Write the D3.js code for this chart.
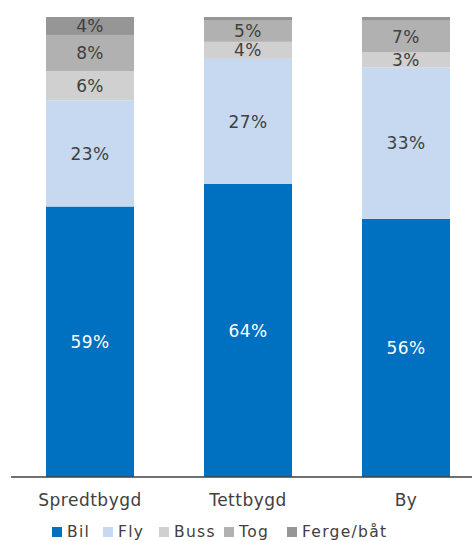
<!DOCTYPE html>
<html><head><meta charset="utf-8">
<script src="https://cdn.jsdelivr.net/npm/d3@7/dist/d3.min.js"></script>
<style>body{margin:0;background:#fff;} svg{display:block;font-family:"DejaVu Sans",sans-serif;}</style>
</head><body>
<svg id="c" width="472" height="541"></svg>
<script>
const categories = ["Spredtbygd", "Tettbygd", "By"];
const seriesNames = ["Bil", "Fly", "Buss", "Tog", "Ferge/båt"];
const bil   = [58.8, 63.7, 56.1];
const fly   = [23.1, 27.2, 32.9];
const buss  = [6.3, 3.7, 3.3];
const tog   = [7.9, 4.6, 6.9];
const ferge = [3.9, 0.8, 0.8];
const colors = ["#0070C0", "#C6D9F0", "#D0D0D0", "#B1B1B1", "#969696"];
const labelColors = ["#ffffff", "#404040", "#404040", "#404040", "#404040"];

(function () {
const seriesVals = [bil, fly, buss, tog, ferge];
const rows = categories.map((c, i) => {
  const r = {cat: c};
  seriesNames.forEach((s, j) => r[s] = seriesVals[j][i]);
  return r;
});

const svg = d3.select("#c");
const mLeft = 11, mRight = 472, mTop = 17, mBottom = 477;

const x = d3.scaleBand().domain(categories).range([mLeft, mRight])
  .paddingInner(0.443).paddingOuter(0.1805).align(0.614);
const y = d3.scaleLinear().domain([0, 100]).range([mBottom, mTop]);

const stack = d3.stack().keys(seriesNames)(rows);

const g = svg.append("g");
stack.forEach((layer, j) => {
  g.selectAll(null).data(layer).enter().append("rect")
    .attr("x", d => x(d.data.cat))
    .attr("width", x.bandwidth())
    .attr("y", d => y(d[1]))
    .attr("height", d => y(d[0]) - y(d[1]))
    .attr("fill", colors[j]);
});
stack.forEach((layer, j) => {
  g.selectAll(null).data(layer.filter(d => d[1] - d[0] >= 2)).enter().append("text")
    .attr("x", d => x(d.data.cat) + x.bandwidth() / 2)
    .attr("y", d => (y(d[0]) + y(d[1])) / 2)
    .attr("dy", "0.36em")
    .attr("text-anchor", "middle")
    .attr("font-size", 17)
    .attr("letter-spacing", 0.4)
    .attr("fill", labelColors[j])
    .text(d => Math.round(d[1] - d[0]) + "%");
});

const axis = svg.append("g").attr("transform", `translate(0,${mBottom})`)
  .call(d3.axisBottom(x).tickSize(0).tickPadding(17));
axis.select(".domain").attr("stroke", "#404040").attr("stroke-width", 1.5)
  .attr("d", `M${mLeft},0H${mRight}`);
axis.selectAll(".tick text").attr("font-size", 17).attr("fill", "#404040")
  .attr("letter-spacing", 0.5)
  .attr("font-family", "'DejaVu Sans', sans-serif");

const legendX = [52, 103, 159, 224, 287];
const lg = svg.append("g");
seriesNames.forEach((s, j) => {
  lg.append("rect").attr("x", legendX[j]).attr("y", 527).attr("width", 10).attr("height", 10).attr("fill", colors[j]);
  lg.append("text").attr("x", legendX[j] + 15).attr("y", 537.3)
    .attr("font-size", 15.5).attr("letter-spacing", 1.3).attr("fill", "#404040").text(s);
});
})();
</script>
</body></html>
